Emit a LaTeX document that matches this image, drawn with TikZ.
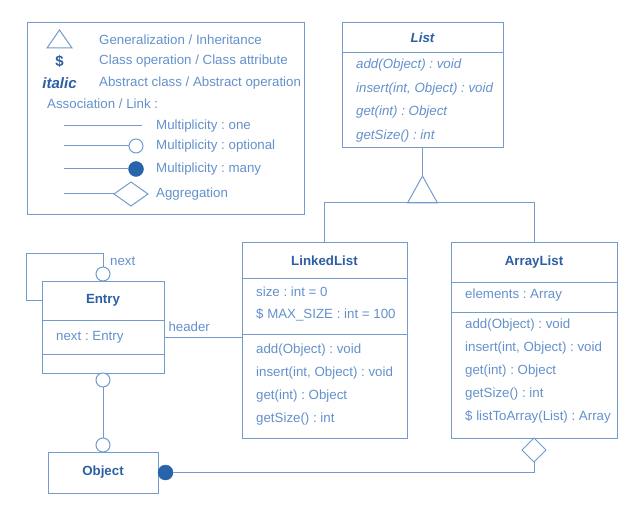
\documentclass[tikz,border=0pt]{standalone}
\usepackage{fontspec}
\setmainfont{Liberation Sans}
\frenchspacing
\usetikzlibrary{positioning,shapes.geometric,calc}
\definecolor{cline}{RGB}{115,155,205}
\definecolor{ctext}{RGB}{100,145,205}
\definecolor{ctitle}{RGB}{45,95,165}
\definecolor{cmany}{RGB}{40,100,170}
\tikzset{
  uml/.style={draw=cline,line width=1pt},
  comp/.style={rectangle,draw=cline,line width=1pt,fill=white,inner sep=0pt,
    outer sep=0pt},
  classname/.style={font=\fontsize{13.3}{15}\selectfont\bfseries,text=ctitle},
  members/.style={font=\fontsize{13.3}{23}\selectfont,text=ctext,align=left,
    inner sep=0pt},
  role/.style={font=\fontsize{13.3}{15}\selectfont,text=ctext,inner sep=0pt},
  legtext/.style={role,anchor=west},
  symbol/.style={font=\fontsize{15}{17}\selectfont\bfseries,text=ctitle,
    inner sep=0pt},
  % association ends
  opt/.style={circle,draw=cline,fill=white,line width=1pt,minimum size=14pt,
    inner sep=0pt,outer sep=0pt},
  many/.style={circle,draw=cmany,fill=cmany,minimum size=15pt,inner sep=0pt,
    outer sep=0pt},
  agg/.style={diamond,draw=cline,fill=white,line width=1pt,minimum width=24pt,
    minimum height=24pt,inner sep=0pt,outer sep=0pt}
}

\begin{document}
\begin{tikzpicture}[x=1pt,y=-1pt]
  \useasboundingbox (0,0) rectangle (632,505);

  % legend
  \node[comp,anchor=north west,minimum width=277pt,minimum height=192pt]
    (legend) at (27,23) {};
  \draw[uml] (47,48) -- (59.5,30) -- (72,48) -- cycle;
  \node[symbol] (leg-static) at (59.5,61) {\$};
  \node[symbol,font=\fontsize{15}{17}\selectfont\bfseries\itshape]
    (leg-abstract) at (59.5,83) {italic};
  \node[legtext] (leg-gen) at (99,40) {Generalization / Inheritance};
  \node[legtext] (leg-cls) at (99,61) {Class operation / Class attribute};
  \node[legtext] (leg-abs) at (99,83) {Abstract class / Abstract operation};
  \node[legtext] (leg-assoc) at (47,104) {Association / Link :};
  \coordinate (one-a) at (64,126);
  \coordinate (one-b) at (142,126);
  \draw[uml] (one-a) -- (one-b);
  \node[opt] (leg-opt) at (136,146) {};
  \coordinate (opt-a) at (64,146);
  \draw[uml] (opt-a) -- (leg-opt);
  \node[many] (leg-many) at (136,169) {};
  \coordinate (many-a) at (64,169);
  \draw[uml] (many-a) -- (leg-many);
  \node[agg,minimum width=34pt] (leg-agg) at (131,194) {};
  \coordinate (agg-a) at (64,194);
  \draw[uml] (agg-a) -- (leg-agg);
  \node[legtext] (leg-one-txt) at (156,126) {Multiplicity : one};
  \node[legtext] (leg-opt-txt) at (156,146) {Multiplicity : optional};
  \node[legtext] (leg-many-txt) at (156,169) {Multiplicity : many};
  \node[legtext] (leg-agg-txt) at (156,194) {Aggregation};

  % List
  \node[comp,classname,anchor=north west,minimum width=161pt,minimum height=30pt,
    font=\fontsize{13.3}{15}\selectfont\bfseries\itshape] (list) at (342,23) {List};
  \node[comp,below=0pt of list,minimum width=161pt,minimum height=95pt] (list-ops) {};
  \node[members,below right=6pt and 14pt of list-ops.north west,
    font=\fontsize{13.3}{23.5}\selectfont\itshape] (list-ops-txt)
    {add(Object) : void\\insert(int, Object) : void\\get(int) : Object\\getSize() : int};

  % LinkedList
  \node[comp,classname,anchor=north west,minimum width=165pt,minimum height=35pt]
    (ll) at (242,243) {LinkedList};
  \node[comp,below=0pt of ll,minimum width=165pt,minimum height=56pt] (ll-attr) {};
  \node[comp,below=0pt of ll-attr,minimum width=165pt,minimum height=104pt] (ll-ops) {};
  \node[members,below right=9pt and 14pt of ll-attr.north west,
    font=\fontsize{13.3}{22}\selectfont] (ll-attr-txt)
    {size : int = 0\\\$ MAX\_SIZE : int = 100};
  \node[members,below right=10pt and 14pt of ll-ops.north west] (ll-ops-txt)
    {add(Object) : void\\insert(int, Object) : void\\get(int) : Object\\getSize() : int};

  % ArrayList
  \node[comp,classname,anchor=north west,minimum width=166pt,minimum height=39pt]
    (al) at (451,243) {ArrayList};
  \node[comp,below=0pt of al,minimum width=166pt,minimum height=30pt] (al-attr) {};
  \node[comp,below=0pt of al-attr,minimum width=166pt,minimum height=126pt] (al-ops) {};
  \node[members,below right=7pt and 14pt of al-attr.north west] (al-attr-txt)
    {elements : Array};
  \node[members,below right=7pt and 14pt of al-ops.north west,
    font=\fontsize{13.3}{22.8}\selectfont] (al-ops-txt)
    {add(Object) : void\\insert(int, Object) : void\\get(int) : Object\\getSize() : int\\\$ listToArray(List) : Array};

  % Entry
  \node[comp,classname,anchor=north west,minimum width=122pt,minimum height=39pt]
    (entry) at (42,281) {Entry};
  \node[comp,below=0pt of entry,minimum width=122pt,minimum height=34pt] (entry-attr) {};
  \node[comp,below=0pt of entry-attr,minimum width=122pt,minimum height=19pt] (entry-ops) {};
  \node[members,below right=11pt and 14pt of entry-attr.north west] (entry-attr-txt)
    {next : Entry};

  % Object
  \node[comp,classname,anchor=north west,minimum width=110pt,minimum height=41pt]
    (object) at (48,452) {Object};

  % generalization
  \coordinate[below=28pt of list-ops] (gen-tip);
  \coordinate[below=27pt of gen-tip] (gen-base);
  \draw[uml] (list-ops) -- (gen-tip);
  \draw[uml] (gen-tip) -- ++(-15,27) -- ++(30,0) -- cycle;
  \draw[uml] (gen-base) -| (ll);
  \draw[uml] (gen-base) -| (al);

  % self association of Entry
  \node[opt,above=0pt of entry] (entry-next) {};
  \coordinate[above=13pt of entry-next] (loop-a);
  \coordinate[left=16pt of entry] (loop-b);
  \draw[uml] (entry-next) -- (loop-a) -| (loop-b) -- (entry);
  \node[role,anchor=west] (next-lbl) at ($(loop-a)+(7,7)$) {next};

  % header
  \draw[uml] (entry-attr.east) -- (entry-attr.east -| ll.west)
    node[role,at start,anchor=south west,xshift=4pt,yshift=5pt] (header-lbl) {header};

  % Entry - Object
  \node[opt,below=0pt of entry-ops] (entry-obj) {};
  \node[opt,above=0pt of object] (obj-entry) {};
  \draw[uml] (entry-obj) -- (obj-entry);

  % aggregation
  \node[agg,below=0pt of al-ops] (al-agg) {};
  \node[many,right=0pt of object] (obj-many) {};
  \draw[uml] (obj-many) -| (al-agg);
\end{tikzpicture}
\end{document}
